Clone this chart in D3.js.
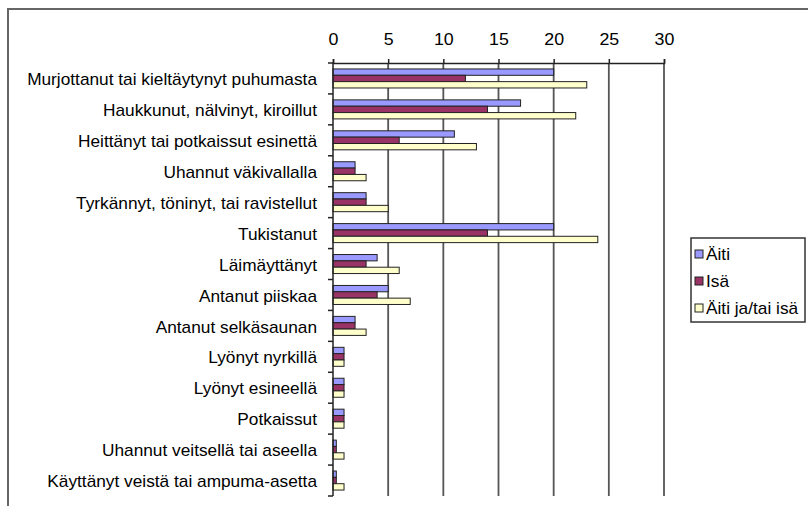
<!DOCTYPE html>
<meta charset="UTF-8">
<style>
body { margin: 0; background: #fff; }
text { font-family: "Liberation Sans", Arial, sans-serif; fill: #000; }
.bar { stroke: #222; stroke-width: 1px; }
.grid line { stroke: #555; stroke-width: 1.8px; }
</style>
<body>
<script src="https://d3js.org/d3.v7.min.js"></script>
<script>

// categories, top to bottom
var categories = [
  "Murjottanut tai kieltäytynyt puhumasta",
  "Haukkunut, nälvinyt, kiroillut",
  "Heittänyt tai potkaissut esinettä",
  "Uhannut väkivallalla",
  "Tyrkännyt, töninyt, tai ravistellut",
  "Tukistanut",
  "Läimäyttänyt",
  "Antanut piiskaa",
  "Antanut selkäsaunan",
  "Lyönyt nyrkillä",
  "Lyönyt esineellä",
  "Potkaissut",
  "Uhannut veitsellä tai aseella",
  "Käyttänyt veistä tai ampuma-asetta"
];

var seriesNames = ["Äiti", "Isä", "Äiti ja/tai isä"];
var seriesColors = ["#9999ff", "#993366", "#ffffcc"];

var aiti =     [20, 17, 11, 2, 3, 20, 4, 5, 2, 1, 1, 1, 0.3, 0.3];
var isa =      [12, 14,  6, 2, 3, 14, 3, 4, 2, 1, 1, 1, 0.3, 0.3];
var molemmat = [23, 22, 13, 3, 5, 24, 6, 7, 3, 1, 1, 1, 1, 1];

var tickValues = [0, 5, 10, 15, 20, 25, 30];

var seriesValues = [aiti, isa, molemmat];

var W = 808, H = 506;
var sx = 1.08; // text in the picture is a little wide

var svg = d3.select("body").append("svg")
    .attr("width", W)
    .attr("height", H);

// outer frame (only top and left are visible)
svg.append("path")
    .attr("d", "M8,506 L8,9 L808,9")
    .attr("fill", "none")
    .attr("stroke", "#666")
    .attr("stroke-width", 2);

var x = d3.scaleLinear().domain([0, 30]).range([333, 664]);

var p = 0.385;
var y = d3.scaleBand().domain(categories).range([63, 496])
    .paddingInner(p).paddingOuter(p / 2);

var ys = d3.scaleBand().domain(d3.range(3)).range([0, y.bandwidth()]);

// vertical grid lines
svg.append("g").attr("class", "grid")
  .selectAll("line")
  .data(tickValues.slice(1))
  .enter().append("line")
    .attr("x1", function(d) { return x(d); })
    .attr("x2", function(d) { return x(d); })
    .attr("y1", y.range()[0])
    .attr("y2", y.range()[1]);

// bars
var rows = categories.map(function(c, i) {
  return seriesValues.map(function(s, k) { return {cat: c, k: k, v: s[i]}; });
});

var group = svg.selectAll("g.row")
    .data(rows)
  .enter().append("g")
    .attr("class", "row")
    .attr("transform", function(d) { return "translate(0," + y(d[0].cat) + ")"; });

group.selectAll("rect")
    .data(function(d) { return d; })
  .enter().append("rect")
    .attr("class", "bar")
    .attr("x", x(0))
    .attr("y", function(d) { return ys(d.k); })
    .attr("width", function(d) { return x(d.v) - x(0); })
    .attr("height", ys.bandwidth())
    .attr("fill", function(d) { return seriesColors[d.k]; });

// top axis
var xAxis = svg.append("g")
    .attr("transform", "translate(0," + y.range()[0] + ")")
    .call(d3.axisTop(x).tickValues(tickValues).tickSize(4).tickPadding(14));

xAxis.select(".domain").attr("stroke", "#222").attr("stroke-width", 1.5);
xAxis.selectAll(".tick line").attr("stroke", "#222").attr("stroke-width", 1.5);
xAxis.selectAll(".tick text")
    .attr("fill", "#000")
    .style("font-size", "16.5px")
    .attr("transform", "scale(" + sx + ",1)");

// category axis
var step = y.step();
var bounds = d3.range(categories.length + 1).map(function(i) { return y.range()[0] + i * step; });

svg.append("line")
    .attr("x1", x(0)).attr("x2", x(0))
    .attr("y1", y.range()[0]).attr("y2", y.range()[1])
    .attr("stroke", "#222").attr("stroke-width", 1.5);

svg.selectAll("line.ytick")
    .data(bounds)
  .enter().append("line")
    .attr("class", "ytick")
    .attr("x1", x(0) - 5).attr("x2", x(0))
    .attr("y1", function(d) { return d; })
    .attr("y2", function(d) { return d; })
    .attr("stroke", "#222").attr("stroke-width", 1.5);

svg.selectAll("text.cat")
    .data(categories)
  .enter().append("text")
    .attr("class", "cat")
    .attr("text-anchor", "end")
    .attr("dy", "0.35em")
    .style("font-size", "16px")
    .attr("transform", function(d) {
      return "translate(317," + (y(d) + y.bandwidth() / 2 + 1) + ") scale(" + sx + ",1)";
    })
    .text(function(d) { return d; });

// legend
var legend = svg.append("g").attr("transform", "translate(691,238)");

legend.append("rect")
    .attr("width", 114).attr("height", 84)
    .attr("fill", "#fff")
    .attr("stroke", "#333").attr("stroke-width", 1.5);

var item = legend.selectAll("g.item")
    .data(seriesNames)
  .enter().append("g")
    .attr("class", "item")
    .attr("transform", function(d, i) { return "translate(0," + (16 + i * 27) + ")"; });

item.append("rect")
    .attr("x", 4).attr("y", -4)
    .attr("width", 8).attr("height", 8)
    .attr("fill", function(d, i) { return seriesColors[i]; })
    .attr("stroke", "#222").attr("stroke-width", 1);

item.append("text")
    .attr("dy", "0.35em")
    .style("font-size", "16px")
    .attr("transform", "translate(15,0) scale(" + sx + ",1)")
    .text(function(d) { return d; });

</script>
</body>
